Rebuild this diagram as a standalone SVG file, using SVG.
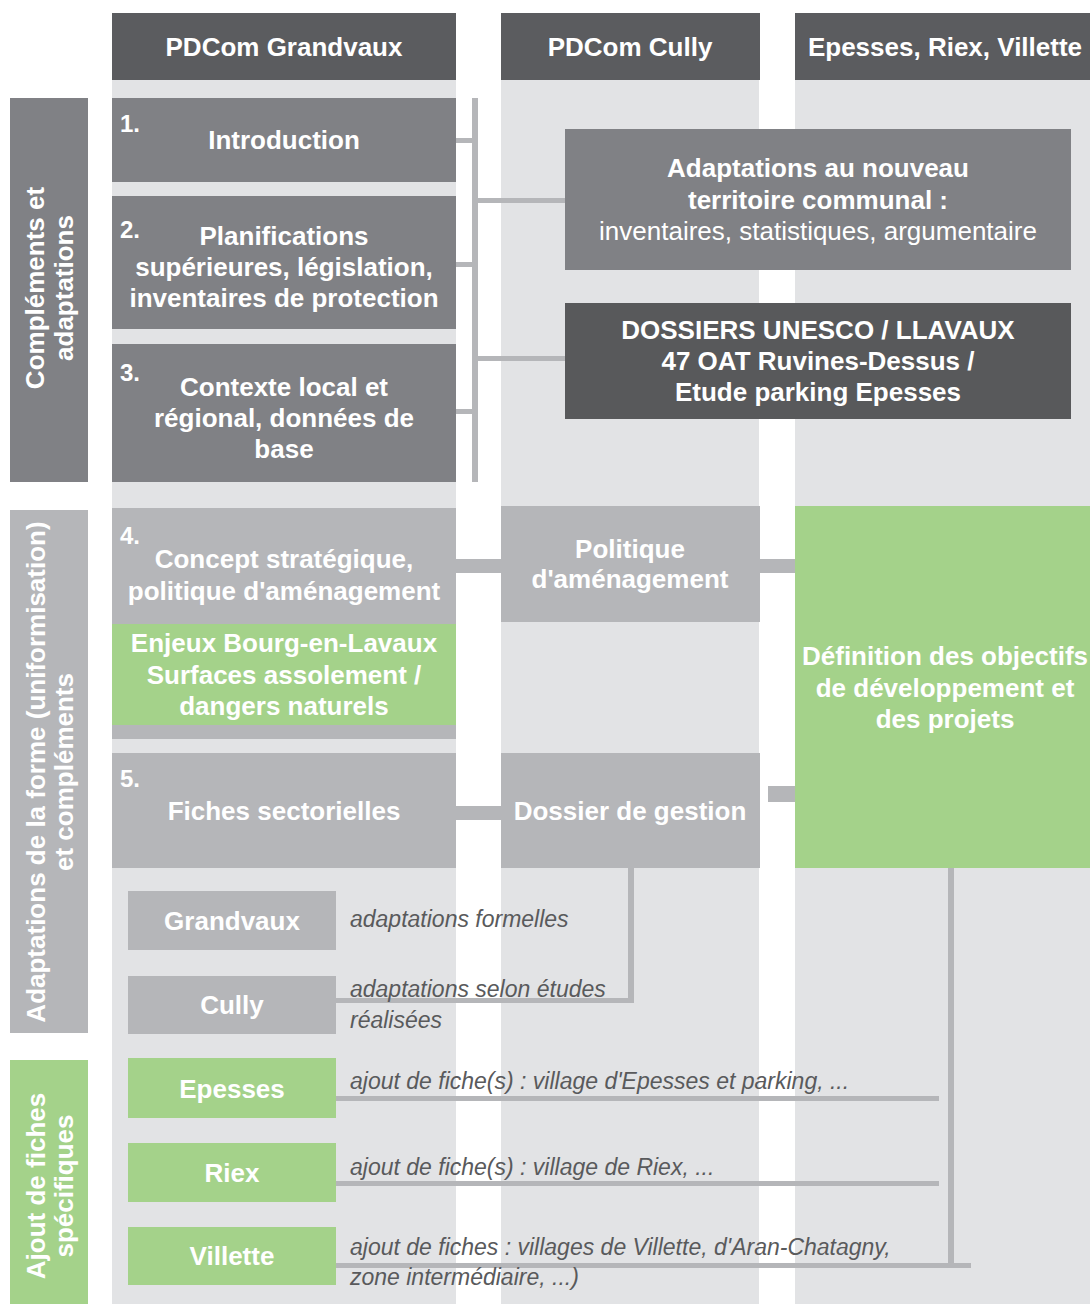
<svg xmlns="http://www.w3.org/2000/svg" width="1090" height="1304" viewBox="0 0 1090 1304">
<style>
text{font-family:"Liberation Sans",Arial,sans-serif}
.b{font-weight:bold;font-size:26px;fill:#fff;text-anchor:middle}
.r{font-size:26px;fill:#fff;text-anchor:middle}
.n{font-weight:bold;font-size:24px;fill:#fff}
.i{font-style:italic;font-size:23px;fill:#595a5c}
.lab{font-weight:bold;font-size:26px;fill:#fff;text-anchor:middle}
.bg{fill:#e2e3e5}
.hd{fill:#5b5c5f}
.md{fill:#808185}
.dk{fill:#58595b}
.lt{fill:#b5b6b9}
.gr{fill:#a4d28a}
.cn{fill:#b5b6b9}
</style>
<rect width="1090" height="1304" fill="#fff"/>
<g id="columns">
<rect class="bg" x="112" y="13" width="344" height="1291"/>
<rect class="bg" x="501" y="13" width="258" height="1291"/>
<rect class="bg" x="795" y="13" width="295" height="1291"/>
</g>
<g id="connectors">
<rect class="cn" x="472" y="98" width="6" height="384"/>
<rect class="cn" x="456" y="138" width="16" height="5"/>
<rect class="cn" x="456" y="262" width="16" height="5"/>
<rect class="cn" x="456" y="409" width="16" height="5"/>
<rect class="cn" x="478" y="198" width="87" height="5"/>
<rect class="cn" x="478" y="356" width="87" height="5"/>
<rect class="cn" x="456" y="559" width="45" height="14"/>
<rect class="cn" x="759" y="559" width="36" height="14"/>
<rect class="cn" x="456" y="806" width="45" height="14"/>
<rect class="cn" x="768" y="786" width="27" height="16"/>
<rect class="cn" x="628" y="868" width="6" height="135"/>
<rect class="cn" x="336" y="998" width="298" height="5"/>
<rect class="cn" x="948" y="868" width="6" height="400"/>
<rect class="cn" x="336" y="1096" width="603" height="5"/>
<rect class="cn" x="336" y="1181" width="603" height="5"/>
<rect class="cn" x="336" y="1263" width="635" height="5"/>
</g>
<g id="header-grandvaux"><rect class="hd" x="112" y="13" width="344" height="67"/><text class="b" x="284" y="56">PDCom Grandvaux</text></g>
<g id="header-cully"><rect class="hd" x="501" y="13" width="259" height="67"/><text class="b" x="630" y="56">PDCom Cully</text></g>
<g id="header-erv"><rect class="hd" x="795" y="13" width="295" height="67"/><text class="b" x="945" y="56">Epesses, Riex, Villette</text></g>
<g id="label-complements"><rect class="md" x="10" y="98" width="78" height="384"/>
<text class="lab" transform="translate(44,288) rotate(-90)">Compléments et</text>
<text class="lab" transform="translate(73,288) rotate(-90)">adaptations</text></g>
<g id="label-adaptations"><rect class="lt" x="10" y="510" width="78" height="523"/>
<text class="lab" transform="translate(45,772) rotate(-90)">Adaptations de la forme (uniformisation)</text>
<text class="lab" transform="translate(73,772) rotate(-90)">et compléments</text></g>
<g id="label-ajout"><rect class="gr" x="10" y="1060" width="78" height="244"/>
<text class="lab" transform="translate(45,1186) rotate(-90)">Ajout de fiches</text>
<text class="lab" transform="translate(73,1186) rotate(-90)">spécifiques</text></g>
<g id="box-1"><rect class="md" x="112" y="98" width="344" height="84"/><text class="n" x="120" y="132">1.</text><text class="b" x="284" y="149">Introduction</text></g>
<g id="box-2"><rect class="md" x="112" y="196" width="344" height="133"/><text class="n" x="120" y="238">2.</text>
<text class="b" x="284" y="245">Planifications</text><text class="b" x="284" y="276">supérieures, législation,</text><text class="b" x="284" y="307">inventaires de protection</text></g>
<g id="box-3"><rect class="md" x="112" y="344" width="344" height="138"/><text class="n" x="120" y="381">3.</text>
<text class="b" x="284" y="396">Contexte local et</text><text class="b" x="284" y="427">régional, données de</text><text class="b" x="284" y="458">base</text></g>
<g id="box-adaptations"><rect class="md" x="565" y="129" width="506" height="141"/>
<text class="b" x="818" y="177">Adaptations au nouveau</text><text class="b" x="818" y="209">territoire communal :</text><text class="r" x="818" y="240">inventaires, statistiques, argumentaire</text></g>
<g id="box-dossiers"><rect class="dk" x="565" y="303" width="506" height="116"/>
<text class="b" x="818" y="339">DOSSIERS UNESCO / LLAVAUX</text><text class="b" x="818" y="370">47 OAT Ruvines-Dessus /</text><text class="b" x="818" y="401">Etude parking Epesses</text></g>
<g id="box-4"><rect class="lt" x="112" y="508" width="344" height="231"/><text class="n" x="120" y="544">4.</text>
<text class="b" x="284" y="568">Concept stratégique,</text><text class="b" x="284" y="600">politique d'aménagement</text></g>
<g id="box-enjeux"><rect class="gr" x="112" y="624" width="344" height="101"/>
<text class="b" x="284" y="652">Enjeux Bourg-en-Lavaux</text><text class="b" x="284" y="684">Surfaces assolement /</text><text class="b" x="284" y="715">dangers naturels</text></g>
<g id="box-politique"><rect class="lt" x="501" y="506" width="259" height="116"/>
<text class="b" x="630" y="558">Politique</text><text class="b" x="630" y="588">d'aménagement</text></g>
<g id="box-definition"><rect class="gr" x="795" y="506" width="295" height="362"/>
<text class="b" x="945" y="665">Définition des objectifs</text><text class="b" x="945" y="697">de développement et</text><text class="b" x="945" y="728">des projets</text></g>
<g id="box-5"><rect class="lt" x="112" y="753" width="344" height="115"/><text class="n" x="120" y="787">5.</text><text class="b" x="284" y="820">Fiches sectorielles</text></g>
<g id="box-gestion"><rect class="lt" x="501" y="753" width="259" height="115"/><text class="b" x="630" y="820">Dossier de gestion</text></g>
<g id="box-grandvaux"><rect class="lt" x="128" y="891" width="208" height="59"/><text class="b" x="232" y="930">Grandvaux</text></g>
<g id="box-cully"><rect class="lt" x="128" y="976" width="208" height="58"/><text class="b" x="232" y="1014">Cully</text></g>
<g id="box-epesses"><rect class="gr" x="128" y="1058" width="208" height="60"/><text class="b" x="232" y="1098">Epesses</text></g>
<g id="box-riex"><rect class="gr" x="128" y="1143" width="208" height="59"/><text class="b" x="232" y="1182">Riex</text></g>
<g id="box-villette"><rect class="gr" x="128" y="1227" width="208" height="58"/><text class="b" x="232" y="1265">Villette</text></g>
<g id="notes">
<text class="i" x="350" y="927">adaptations formelles</text>
<text class="i" x="350" y="997">adaptations selon études</text>
<text class="i" x="350" y="1028">réalisées</text>
<text class="i" x="350" y="1089">ajout de fiche(s) : village d'Epesses et parking, ...</text>
<text class="i" x="350" y="1175">ajout de fiche(s) : village de Riex, ...</text>
<text class="i" x="350" y="1255">ajout de fiches : villages de Villette, d'Aran-Chatagny,</text>
<text class="i" x="350" y="1285">zone intermédiaire, ...)</text>
</g>
</svg>
